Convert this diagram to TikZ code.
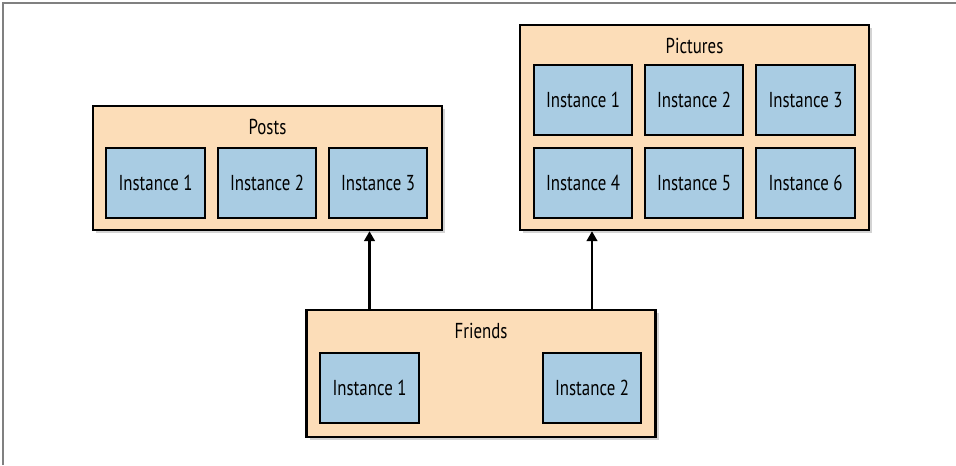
\documentclass[tikz,border=0pt]{standalone}
\usepackage{fontspec}
\setmainfont{PT Sans}[FakeStretch=0.78]
\usetikzlibrary{shadows,arrows.meta}
\definecolor{peach}{RGB}{252,221,184}
\definecolor{paleblue}{RGB}{169,204,227}

\begin{document}
\begin{tikzpicture}[x=0.75pt,y=-0.75pt]
\tikzstyle{every node}=[font=\fontsize{16.2}{19}\selectfont]
\tikzstyle{service}=[draw=black, line width=1.8pt, fill=peach, minimum width=261.75pt,
  drop shadow={shadow xshift=2.5pt, shadow yshift=-2.5pt, opacity=0.35}]
\tikzstyle{instance}=[draw=black, line width=1.6pt, fill=paleblue, minimum width=74pt, minimum height=52.5pt]
\tikzstyle{title}=[anchor=base]
\tikzstyle{link}=[line width=1.8pt, -{Triangle[width=8pt,length=7.5pt]}]

\useasboundingbox (0,0) rectangle (956,465);
\draw[line width=1.5pt, gray] (3,465) -- (3,3) -- (956,3);

% services
\node[service, minimum height=93pt] (posts) at (267.5,168) {};
\node[service, minimum height=153.75pt] (pictures) at (694.5,127.5) {};
\node[service, minimum height=95.25pt] (friends) at (481,373.5) {};

\node[title] at ([yshift=-22pt]posts.north) {Posts};
\node[title] at ([yshift=-22pt]pictures.north) {Pictures};
\node[title] at ([yshift=-22.5pt]friends.north) {Friends};

% instances
\foreach \i/\x in {1/155.5, 2/267, 3/378}
  \node[instance] (post\i) at (\x,183) {Instance \i};
\foreach \i/\x/\y in {1/583/100, 2/694/100, 3/805.5/100, 4/583/183, 5/694/183, 6/805.5/183}
  \node[instance] (pic\i) at (\x,\y) {Instance \i};
\node[instance] (friend1) at (369.5,388) {Instance 1};
\node[instance] (friend2) at (592,388) {Instance 2};

\draw[link] (friend1 |- friends.north) -- (friend1 |- posts.south);
\draw[link] (friend2 |- friends.north) -- (friend2 |- pictures.south);
\end{tikzpicture}
\end{document}
